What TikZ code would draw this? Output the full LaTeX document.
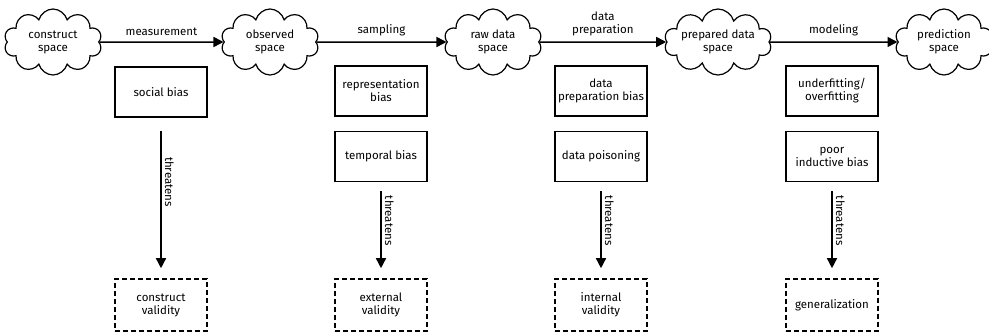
\documentclass[tikz,border=0pt]{standalone}
\usepackage{fontspec}
\setmainfont{Fira Sans}
\usepackage{tikz}
\usetikzlibrary{positioning,shapes.symbols,arrows.meta}

\begin{document}
\begin{tikzpicture}[x=1pt, y=-1pt, font=\fontsize{11.5}{13}\selectfont,
	space/.style={cloud, draw, line width=1.2pt, cloud puffs=10, aspect=1.8,
		cloud ignores aspect, minimum width=98pt, minimum height=66pt,
		inner sep=0pt, align=center},
	bias/.style={draw, line width=1.6pt, minimum width=92pt, minimum height=50pt,
		inner sep=2pt, align=center},
	validity/.style={bias, dash pattern=on 5pt off 3pt, minimum height=52pt},
	flow/.style={-{Triangle[length=10pt, width=10pt]}, line width=1.5pt},
	threat/.style={flow, shorten <=9pt, shorten >=10pt}]
	\useasboundingbox (0,0) rectangle (989,335);
	% Define nodes
	\node[space] (cs) at (53,42)  {construct\\space};
	\node[space] (os) at (270,42) {observed\\space};
	\node[space] (rs) at (493,42) {raw data\\space};
	\node[space] (ps) at (718,42) {prepared data\\space};
	\node[space] (ds) at (944,42) {prediction\\space};
	% biases, halfway along each step
	\node[bias] (social) at (161,92) {social bias};
	\node[bias] (repr)   at (381,91) {representation\\bias};
	\node[bias, below=14pt of repr] (temp) {temporal bias};
	\node[bias] (prep)   at (601,91) {data\\preparation bias};
	\node[bias, below=14pt of prep] (poison) {data poisoning};
	\node[bias] (fit)    at (832,91) {underfitting/\\overfitting};
	\node[bias, below=14pt of fit] (induct) {poor\\inductive bias};
	% validities
	\node[validity] (cv) at (161,305) {construct\\validity};
	\node[validity] (ev) at (381,305) {external\\validity};
	\node[validity] (iv) at (601,305) {internal\\validity};
	\node[validity] (gv) at (832,305) {generalization};
	% Connect the nodes
	\draw[flow] (cs) -- node[above=2pt] {measurement} (os);
	\draw[flow] (os) -- node[above=2pt] {sampling} (rs);
	\draw[flow] (rs) -- node[above=2pt, align=center] {data\\preparation} (ps);
	\draw[flow] (ps) -- node[above=2pt] {modeling} (ds);
	\draw[threat, shorten <=13pt] (social) -- node[pos=0.4, anchor=south, rotate=-90] {threatens} (cv);
	\draw[threat] (temp)   -- node[pos=0.4, anchor=south, rotate=-90] {threatens} (ev);
	\draw[threat] (poison) -- node[pos=0.4, anchor=south, rotate=-90] {threatens} (iv);
	\draw[threat] (induct) -- node[pos=0.4, anchor=south, rotate=-90] {threatens} (gv);
\end{tikzpicture}
\end{document}
